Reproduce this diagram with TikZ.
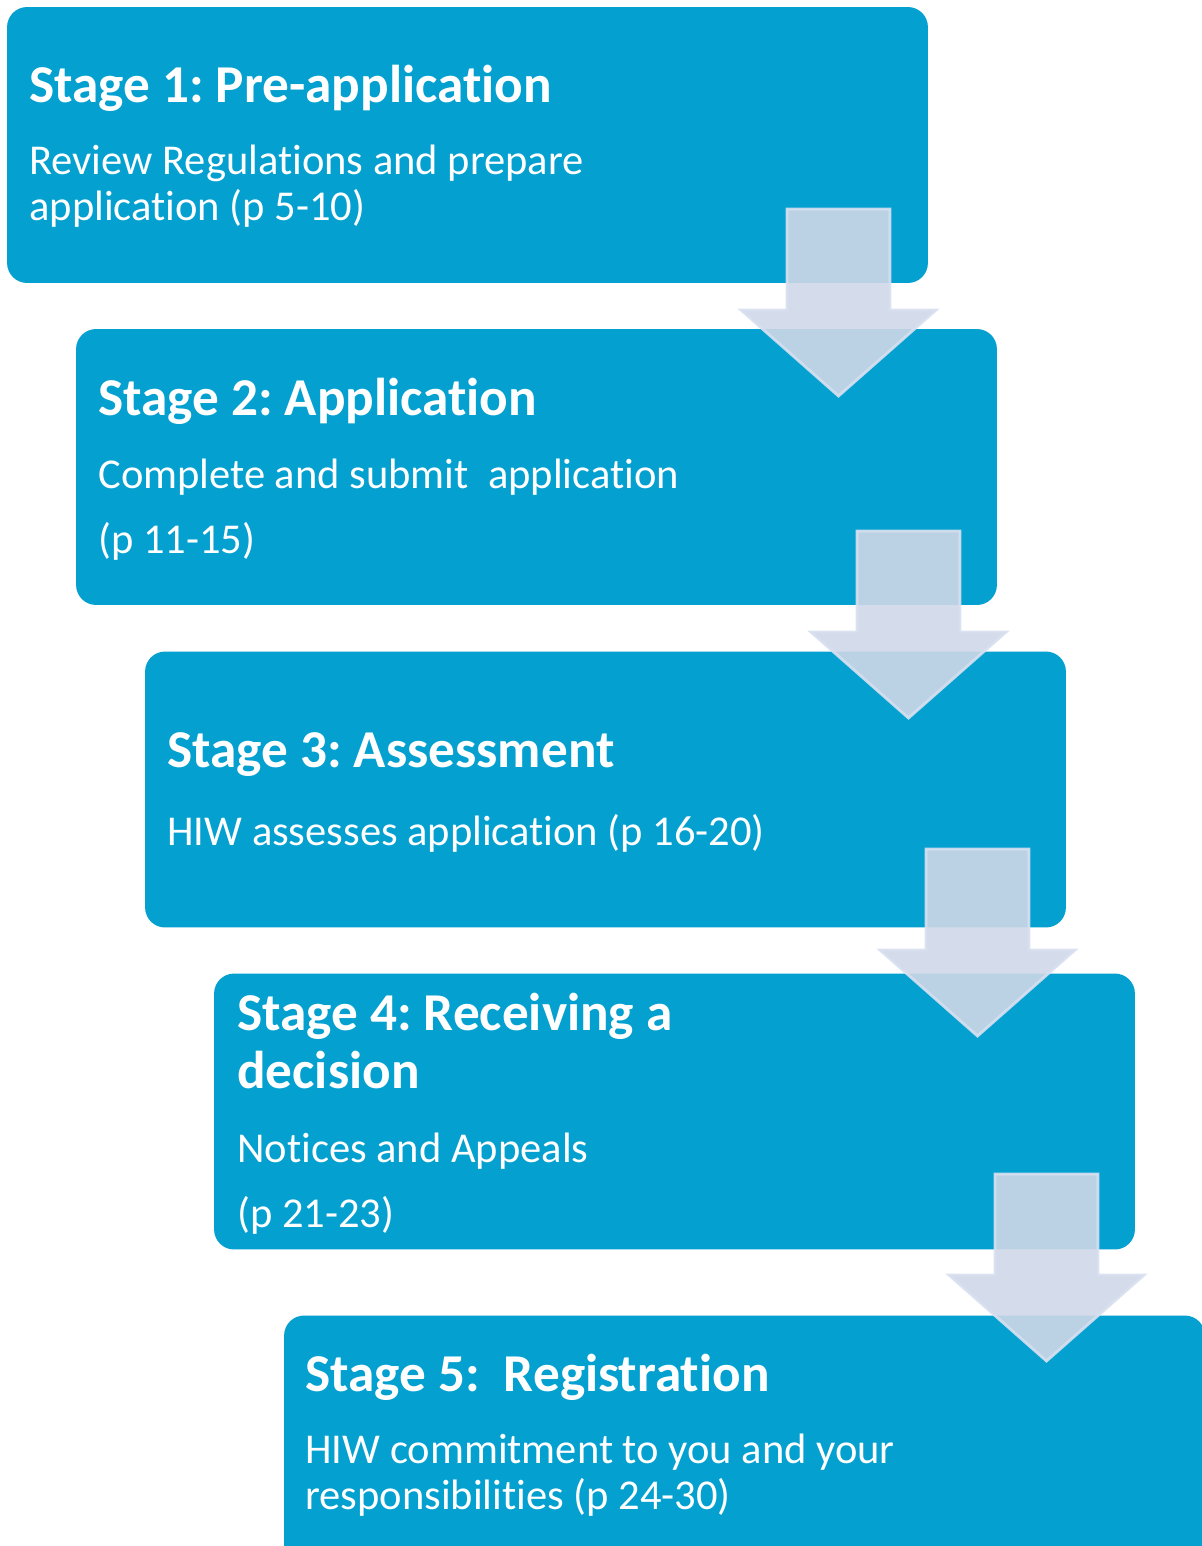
\documentclass[tikz,border=0pt]{standalone}
\usepackage{fontspec}
\setmainfont{Carlito}[Ligatures=NoCommon]
\usepackage{tikz}

\definecolor{stageblue}{RGB}{3,160,208}
\definecolor{arrowfill}{RGB}{208,216,232}
\definecolor{arrowline}{RGB}{216,224,240}

\tikzset{
  stagebox/.style={rectangle, rounded corners=0.4cm, fill=stageblue, draw=none,
    minimum width=18.42cm, minimum height=5.52cm, inner sep=0pt},
  stagetitle/.style={anchor=base west, inner sep=0pt, text=white,
    font=\fontsize{30.3}{36}\selectfont\bfseries\frenchspacing},
  stagetext/.style={anchor=base west, inner sep=0pt, text=white,
    font=\fontsize{24.2}{29}\selectfont\frenchspacing},
  flowarrow/.style={fill=arrowfill, draw=arrowline, line width=1.6pt,
    fill opacity=0.9, draw opacity=0.9}
}

\begin{document}
\begin{tikzpicture}[x=0.02cm, y=-0.02cm]
\clip (0,0) rectangle (1202,1546);
\fill[white] (0,0) rectangle (1202,1546);
% the five stages
\node[stagebox] (stage1) at (467.5,145) {};
\node[stagebox] (stage2) at (536.5,467) {};
\node[stagebox] (stage3) at (605.5,789.5) {};
\node[stagebox] (stage4) at (674.5,1111.5) {};
\node[stagebox] (stage5) at (744.5,1453.5) {};
% texts
\node[stagetitle] (t1) at (29,102) {Stage 1: Pre-application};
\node[stagetext] (t1a) at (29,174) {Review Regulations and prepare};
\node[stagetext] (t1b) at (29,220) {application (p 5-10)};
\node[stagetitle] (t2) at (98,415) {Stage 2: Application};
\node[stagetext] (t2a) at (98,488) {Complete and submit\ \ application};
\node[stagetext] (t2b) at (98,553) {(p 11-15)};
\node[stagetitle] (t3) at (167,767) {Stage 3: Assessment};
\node[stagetext] (t3a) at (167,845) {HIW assesses application (p 16-20)};
\node[stagetitle] (t4) at (237,1030) {Stage 4: Receiving a};
\node[stagetitle] (t4b) at (237,1088) {decision};
\node[stagetext] (t4c) at (237,1162) {Notices and Appeals};
\node[stagetext] (t4d) at (237,1227) {(p 21-23)};
\node[stagetitle] (t5) at (305,1391) {Stage 5:\ \ Registration};
\node[stagetext] (t5a) at (305,1463) {HIW commitment to you and your};
\node[stagetext] (t5b) at (305,1509) {responsibilities (p 24-30)};
% arrows between stages
\coordinate (a1) at (838.5,209);
\coordinate (a2) at (908.5,531);
\coordinate (a3) at (977.5,849);
\coordinate (a4) at (1046.5,1174);
\draw[flowarrow] (a1) ++(-51.5,0) -- ++(103,0) -- ++(0,101) -- ++(46,0) -- ++(-97.5,86) -- ++(-97.5,-86) -- ++(46,0) -- cycle;
\draw[flowarrow] (a2) ++(-51.5,0) -- ++(103,0) -- ++(0,101) -- ++(46,0) -- ++(-97.5,86) -- ++(-97.5,-86) -- ++(46,0) -- cycle;
\draw[flowarrow] (a3) ++(-51.5,0) -- ++(103,0) -- ++(0,101) -- ++(46,0) -- ++(-97.5,86) -- ++(-97.5,-86) -- ++(46,0) -- cycle;
\draw[flowarrow] (a4) ++(-51.5,0) -- ++(103,0) -- ++(0,101) -- ++(46,0) -- ++(-97.5,86) -- ++(-97.5,-86) -- ++(46,0) -- cycle;
\end{tikzpicture}
\end{document}
